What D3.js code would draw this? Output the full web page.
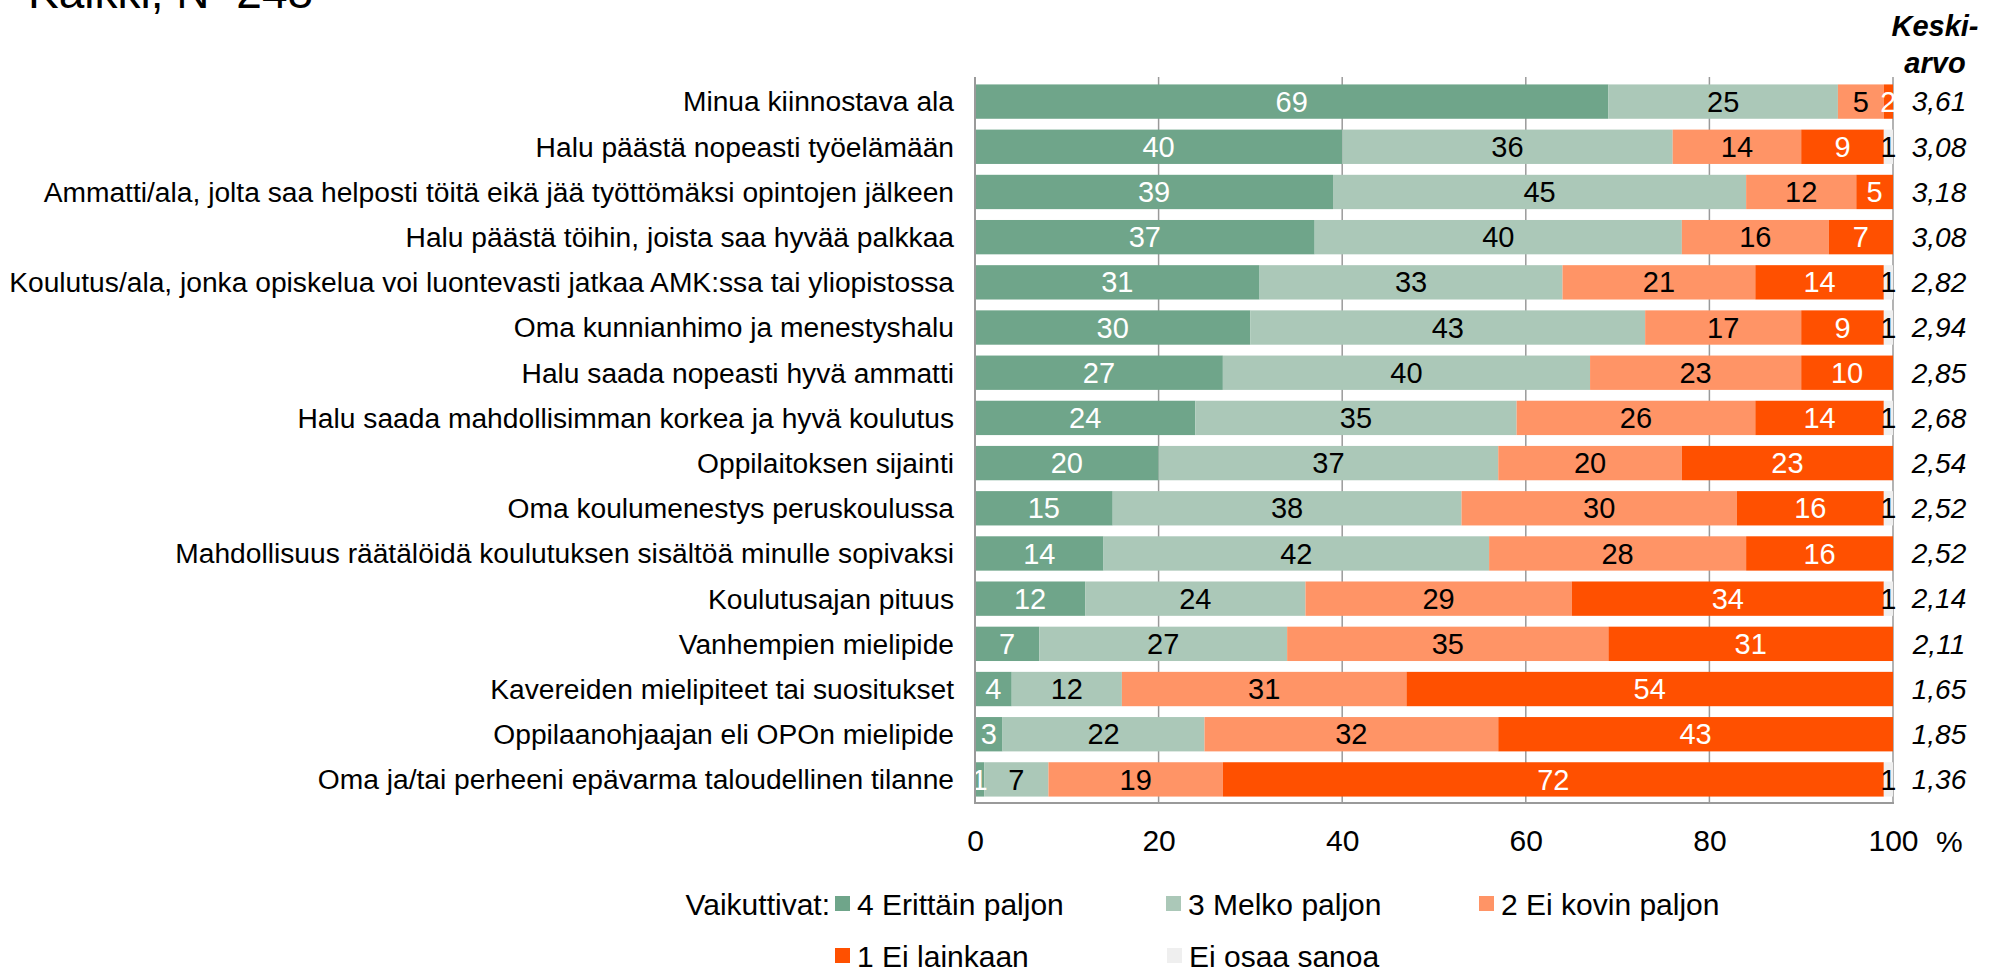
<!DOCTYPE html>
<html>
<head>
<meta charset="utf-8">
<script src="https://cdn.jsdelivr.net/npm/d3@7"></script>
<style>
  html, body { margin: 0; padding: 0; background: #fff; }
  svg { display: block; font-family: "Liberation Sans", Arial, sans-serif; }
</style>
</head>
<body>
<svg id="chart" width="1989" height="970"></svg>
<script>
const categories = [
  "Minua kiinnostava ala",
  "Halu päästä nopeasti työelämään",
  "Ammatti/ala, jolta saa helposti töitä eikä jää työttömäksi opintojen jälkeen",
  "Halu päästä töihin, joista saa hyvää palkkaa",
  "Koulutus/ala, jonka opiskelua voi luontevasti jatkaa AMK:ssa tai yliopistossa",
  "Oma kunnianhimo ja menestyshalu",
  "Halu saada nopeasti hyvä ammatti",
  "Halu saada mahdollisimman korkea ja hyvä koulutus",
  "Oppilaitoksen sijainti",
  "Oma koulumenestys peruskoulussa",
  "Mahdollisuus räätälöidä koulutuksen sisältöä minulle sopivaksi",
  "Koulutusajan pituus",
  "Vanhempien mielipide",
  "Kavereiden mielipiteet tai suositukset",
  "Oppilaanohjaajan eli OPOn mielipide",
  "Oma ja/tai perheeni epävarma taloudellinen tilanne"
];
const seriesNames = ["4 Erittäin paljon", "3 Melko paljon", "2 Ei kovin paljon", "1 Ei lainkaan", "Ei osaa sanoa"];
const erittainPaljon = [69, 40, 39, 37, 31, 30, 27, 24, 20, 15, 14, 12, 7, 4, 3, 1];
const melkoPaljon    = [25, 36, 45, 40, 33, 43, 40, 35, 37, 38, 42, 24, 27, 12, 22, 7];
const eiKovinPaljon  = [5, 14, 12, 16, 21, 17, 23, 26, 20, 30, 28, 29, 35, 31, 32, 19];
const eiLainkaan     = [2, 9, 5, 7, 14, 9, 10, 14, 23, 16, 16, 34, 31, 54, 43, 72];
const eiOsaaSanoa    = [0, 1, 0, 0, 1, 1, 0, 1, 0, 1, 0, 1, 0, 0, 0, 1];
const keskiarvo = ["3,61", "3,08", "3,18", "3,08", "2,82", "2,94", "2,85", "2,68", "2,54", "2,52", "2,52", "2,14", "2,11", "1,65", "1,85", "1,36"];
const xTicks = [0, 20, 40, 60, 80, 100];
const titleText = "Kaikki, N=248";
const legendLead = "Vaikuttivat:";
const meanHeader = ["Keski-", "arvo"];

const colors = ["#6fa58a", "#abc8b8", "#ff9466", "#ff5000", "#efefef"];
const textColors = ["#fff", "#000", "#000", "#fff", "#000"];

const svg = d3.select("#chart");
const x = d3.scaleLinear().domain([0, 100]).range([975, 1893]);
const y = d3.scaleBand().domain(categories).range([79, 802]).paddingInner(0.24).paddingOuter(0.12);

const seriesData = [erittainPaljon, melkoPaljon, eiKovinPaljon, eiLainkaan, eiOsaaSanoa];

// title (cut off at the top, as in the original)
svg.append("text").attr("x", 28).attr("y", 8).attr("font-size", 46).attr("fill", "#000").text(titleText);

// gridlines
svg.append("g").selectAll("line").data(xTicks.filter(d => d > 0)).join("line")
  .attr("x1", d => x(d)).attr("x2", d => x(d))
  .attr("y1", 77).attr("y2", 803)
  .attr("stroke", "#9a9a9a").attr("stroke-width", 1.5);

// bars
const rows = categories.map((c, i) => {
  let acc = 0;
  return seriesData.map((s, k) => {
    const v = s[i];
    const x0 = Math.min(acc, 100);
    acc += v;
    const x1 = Math.min(acc, 100);
    return { cat: c, k, v, x0, x1 };
  });
});
const segs = rows.flat();
svg.append("g").selectAll("rect").data(segs.filter(d => d.x1 > d.x0)).join("rect")
  .attr("x", d => x(d.x0)).attr("width", d => x(d.x1) - x(d.x0))
  .attr("y", d => y(d.cat)).attr("height", y.bandwidth())
  .attr("fill", d => colors[d.k]);

svg.append("g").selectAll("text").data(segs.filter(d => d.v > 0)).join("text")
  .attr("x", d => (x(d.x0) + x(d.x1)) / 2)
  .attr("y", d => y(d.cat) + y.bandwidth() / 2)
  .attr("dy", "0.35em").attr("text-anchor", "middle")
  .attr("font-size", 29).attr("fill", d => textColors[d.k])
  .text(d => d.v);

// axes lines
svg.append("line").attr("x1", x(0)).attr("x2", x(0)).attr("y1", 77).attr("y2", 803)
  .attr("stroke", "#9a9a9a").attr("stroke-width", 2);
svg.append("line").attr("x1", x(0) - 1).attr("x2", x(100) + 1).attr("y1", 803).attr("y2", 803)
  .attr("stroke", "#9a9a9a").attr("stroke-width", 2);

// category labels
svg.append("g").selectAll("text").data(categories).join("text")
  .attr("x", 954).attr("y", d => y(d) + y.bandwidth() / 2).attr("dy", "0.35em")
  .attr("text-anchor", "end").attr("font-size", 28.2).attr("fill", "#000")
  .text(d => d);

// x tick labels
const xAxis = d3.axisBottom(x).tickValues(xTicks).tickSize(0).tickPadding(0);
const gx = svg.append("g").attr("transform", "translate(0,830)").call(xAxis);
gx.select(".domain").remove();
gx.selectAll("text").attr("font-size", 30).attr("fill", "#000")
  .attr("font-family", "'Liberation Sans', Arial, sans-serif").attr("dy", "0.71em");
svg.append("text").attr("x", 1936).attr("y", 852).attr("font-size", 30).attr("fill", "#000").text("%");

// mean header and values
svg.append("g").selectAll("text").data(meanHeader).join("text")
  .attr("x", 1935).attr("y", (d, i) => 36 + i * 37)
  .attr("text-anchor", "middle").attr("font-size", 29).attr("font-weight", "bold").attr("font-style", "italic")
  .attr("fill", "#000").text(d => d);
svg.append("g").selectAll("text").data(categories).join("text")
  .attr("x", 1939).attr("y", d => y(d) + y.bandwidth() / 2).attr("dy", "0.35em")
  .attr("text-anchor", "middle").attr("font-size", 28).attr("font-style", "italic").attr("fill", "#000")
  .text((d, i) => keskiarvo[i]);

// legend
const legendPos = [[835, 904], [1166, 904], [1479, 904], [835, 956], [1167, 956]];
svg.append("text").attr("x", 830).attr("y", 904).attr("dy", "0.35em").attr("text-anchor", "end")
  .attr("font-size", 30).attr("fill", "#000").text(legendLead);
const lg = svg.append("g").selectAll("g").data(seriesNames).join("g")
  .attr("transform", (d, i) => `translate(${legendPos[i][0]},${legendPos[i][1]})`);
lg.append("rect").attr("x", 0).attr("y", -8).attr("width", 15).attr("height", 15).attr("fill", (d, i) => colors[i]);
lg.append("text").attr("x", 22).attr("y", 0).attr("dy", "0.35em").attr("font-size", 30).attr("fill", "#000").text(d => d);
</script>
</body>
</html>
